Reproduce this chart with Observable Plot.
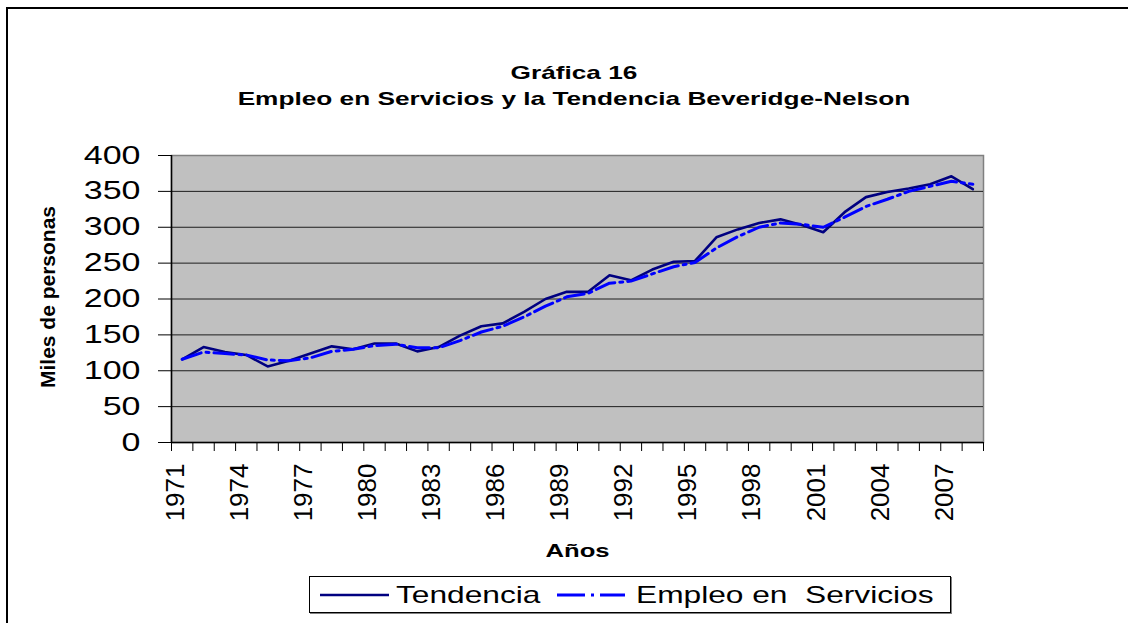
<!DOCTYPE html>
<html><head><meta charset="utf-8">
<script src="https://cdn.jsdelivr.net/npm/d3@7"></script>
<script src="https://cdn.jsdelivr.net/npm/@observablehq/plot@0.6"></script>
<style>
html,body{margin:0;overflow:hidden;}
body{background:#fff;width:1128px;height:623px;position:relative;font-family:"Liberation Sans",Arial,sans-serif;color:#000;}
#frame{position:absolute;left:6px;top:7px;width:1200px;height:700px;border:2px solid #000;box-sizing:border-box;}
.title{position:absolute;left:574px;font-weight:bold;font-size:19px;line-height:19px;white-space:nowrap;transform:translate(-50%,0) scaleX(1.38);}
#chart{position:absolute;left:0;top:120px;}
#legend{position:absolute;left:309px;top:576px;width:642px;height:37px;border:1px solid #000;box-sizing:border-box;box-shadow:1px 1px 0 #808080;background:#fff;}
#legend .lt{position:absolute;top:6px;font-size:24px;line-height:24px;white-space:pre;transform-origin:0 50%;transform:scaleX(1.32);}
#legend svg{position:absolute;top:0;}
</style></head>
<body>
<div id="frame"></div>
<div class="title" style="top:63px">Gráfica 16</div>
<div class="title" style="top:89px">Empleo en Servicios y la Tendencia Beveridge-Nelson</div>
<div id="chart"></div>
<div id="legend"></div>
<script>
const years = d3.range(1971, 2009);
const tendencia = [116,133,126,122,106,114,124,134,130,138,138,127,133,149,162,166,182,200,210,210,233,226,241,252,253,286,297,306,311,303,293,321,342,349,354,360,371,353];
const empleo    = [116,126,124,122,115,114,118,127,130,135,137,132,132,142,154,162,175,190,203,208,222,225,235,245,251,271,287,300,306,304,300,314,329,339,350,357,364,360];
const yTicks = [0,50,100,150,200,250,300,350,400];
const gridVals = [50,100,150,200,250,300,350];
const labelYears = [1971,1974,1977,1980,1983,1986,1989,1992,1995,1998,2001,2004,2007];
const xBounds = d3.range(1970.5, 2009, 1);
const seriesNames = ["Tendencia", "Empleo en  Servicios"];

const data = years.map((y, i) => ({year: y, tend: tendencia[i], emp: empleo[i]}));

const plot = Plot.plot({
  width: 1128, height: 440,
  marginTop: 35, marginBottom: 118, marginLeft: 171, marginRight: 145,
  style: {fontFamily: '"Liberation Sans", Arial, sans-serif', color: "#000", background: "transparent"},
  x: {type: "linear", domain: [1970.5, 2008.5], label: null},
  y: {domain: [0, 400], label: null},
  marks: [
    Plot.frame({fill: "#c0c0c0", stroke: "#808080", strokeWidth: 1.5}),
    Plot.gridY(gridVals, {stroke: "#000", strokeOpacity: 0.85, strokeWidth: 1}),
    Plot.ruleY([0], {stroke: "#000", strokeWidth: 1.5}),
    Plot.ruleX([1970.5], {stroke: "#000", strokeWidth: 1.5}),
    Plot.axisX({ticks: xBounds, tickSize: 9, tickFormat: () => "", label: null, stroke: "#000"}),
    Plot.axisY({ticks: yTicks, tickSize: 13, tickPadding: 18, fontSize: 25, label: null, tickFormat: d => String(d), stroke: "#000"}),
    Plot.text(labelYears, {x: d => d, text: d => String(d), rotate: -90, frameAnchor: "bottom", textAnchor: "end", lineAnchor: "middle", dy: 21, dx: -7, fontSize: 26, fill: "#000"}),
    Plot.text(["Años"], {frameAnchor: "bottom", dy: 108, textAnchor: "middle", lineAnchor: "middle", fontWeight: "bold", fontSize: 19, fill: "#000"}),
    Plot.text(["Miles de personas"], {frameAnchor: "left", dx: -123, dy: -2, rotate: -90, textAnchor: "middle", lineAnchor: "middle", fontWeight: "bold", fontSize: 21, fill: "#000"}),
    Plot.line(data, {x: "year", y: "tend", stroke: "#000080", strokeWidth: 2.6}),
    Plot.line(data, {x: "year", y: "emp", stroke: "#0000ff", strokeWidth: 3, strokeDasharray: "20,5,3,5"})
  ]
});
document.getElementById("chart").appendChild(plot);

function stretch(t, sx) {
  const x = +(t.getAttribute("x") || 0);
  const tr = t.getAttribute("transform") || "";
  t.setAttribute("transform", `${tr} translate(${x},0) scale(${sx},1) translate(${-x},0)`);
}
plot.querySelectorAll('g[aria-label="y-axis tick label"] text').forEach(t => stretch(t, 1.36));
plot.querySelectorAll('text').forEach(t => { if (t.textContent === "Años") stretch(t, 1.35); });

// legend
const lg = document.getElementById("legend");
const ns = "http://www.w3.org/2000/svg";
function swatch(left, width, color, dash, sw) {
  const s = document.createElementNS(ns, "svg");
  s.setAttribute("width", width); s.setAttribute("height", 36);
  s.style.left = left + "px";
  const l = document.createElementNS(ns, "line");
  l.setAttribute("x1", 0); l.setAttribute("x2", width); l.setAttribute("y1", 18); l.setAttribute("y2", 18);
  l.setAttribute("stroke", color); l.setAttribute("stroke-width", sw);
  if (dash) l.setAttribute("stroke-dasharray", dash);
  s.appendChild(l); lg.appendChild(s);
}
function ltext(left, txt) {
  const d = document.createElement("div"); d.className = "lt"; d.style.left = left + "px"; d.textContent = txt; lg.appendChild(d);
}
swatch(10, 69, "#000080", null, 2.6);
ltext(86, seriesNames[0]);
swatch(247, 68, "#0000ff", "28,6,3,6,28", 3);
ltext(326, seriesNames[1]);
</script>
</body></html>
